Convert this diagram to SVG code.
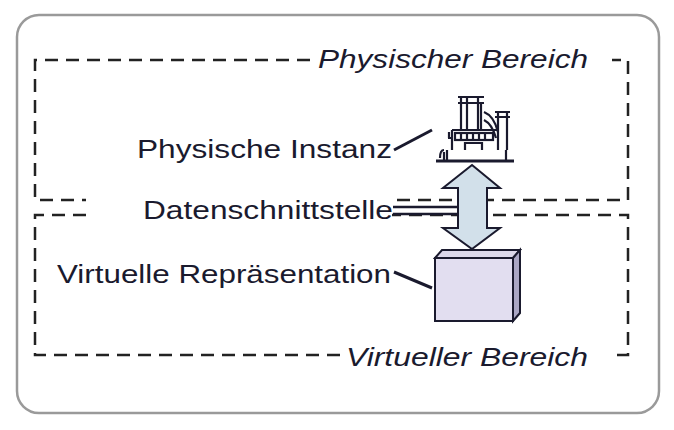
<svg xmlns="http://www.w3.org/2000/svg" width="674" height="430" viewBox="0 0 674 430">
<style>
.d{fill:none;stroke:#222;stroke-width:2.5;stroke-dasharray:13 8}
.t{font-family:"Liberation Sans",Arial,sans-serif;font-size:26px;fill:#1a1a2e}
.i{font-style:italic}
.l{stroke:#1a1a2e;stroke-width:3;fill:none}
.f{stroke:#1a1a2e;stroke-width:2.2;fill:none}
</style>
<rect x="0" y="0" width="674" height="430" fill="#fff"/>
<rect x="17" y="15" width="642" height="398" rx="22" fill="#fff" stroke="#9a9a9a" stroke-width="2.5"/>
<g id="physischer-bereich">
<path class="d" d="M310 60 H35 V200 H628 V60 H612"/>
<text class="t i" x="318" y="68" textLength="270" lengthAdjust="spacingAndGlyphs">Physischer Bereich</text>
</g>
<g id="virtueller-bereich">
<path class="d" d="M340 355 H35 V215 H628 V355 H612"/>
<text class="t i" x="346" y="366" textLength="242" lengthAdjust="spacingAndGlyphs">Virtueller Bereich</text>
</g>
<g id="physische-instanz">
<text class="t" x="137" y="158" textLength="255" lengthAdjust="spacingAndGlyphs">Physische Instanz</text>
<g class="f">
<path d="M458 97 H484 M458 103 H484 M461 97 V130 M467 97 V130 M478 97 V130 M481 103 V130"/>
<path d="M495 112 H510 M495 117 H510 M498 112 V150 M507 112 V150"/>
<path d="M484 112 Q494 116 498 132 M484 120 Q492 124 496 138"/>
<path d="M452 130 H498 M452 130 V150 M448 138 H452 M449 138 V132"/>
<rect x="455" y="133" width="38" height="7"/>
<path d="M461 133 V140 M467 133 V140 M473 133 V140 M479 133 V140 M485 133 V140"/>
<path d="M465 150 V143 H482 V150"/>
<path d="M444 150 Q440 150 440 158 M447 150 V160 M444 152 V160 M506 150 V160"/>
<path d="M436 161 H514" stroke-width="2.8"/>
</g>
</g>
<g id="datenschnittstelle">
<rect x="86" y="196" width="306" height="26" fill="#fff"/>
<text class="t" x="143" y="219" textLength="250" lengthAdjust="spacingAndGlyphs">Datenschnittstelle</text>
</g>
<g id="virtuelle-repraesentation">
<text class="t" x="57" y="283" textLength="334" lengthAdjust="spacingAndGlyphs">Virtuelle Repräsentation</text>
<path d="M435 258 L442 250 H520 L513 258 Z" fill="#dcd8ea" stroke="#1a1a2e" stroke-width="2"/>
<path d="M513 258 L520 250 V313 L513 321 Z" fill="#aaa6c4" stroke="#1a1a2e" stroke-width="2"/>
<rect x="435" y="258" width="78" height="63" fill="#e2def0" stroke="#1a1a2e" stroke-width="2"/>
</g>
<g id="connectors">
<path class="l" d="M394 150 L432 130"/>
<path class="l" d="M394 272 L432 288"/>
<path d="M393 207 H458 M393 214 H458" stroke="#1a1a2e" stroke-width="2.5"/>
<path d="M472 165 L500 188 H487 V228 H500 L472 249 L443 228 H458 V188 H443 Z" fill="#d2e0ea" stroke="#1a1a2e" stroke-width="2"/>
</g>
</svg>
